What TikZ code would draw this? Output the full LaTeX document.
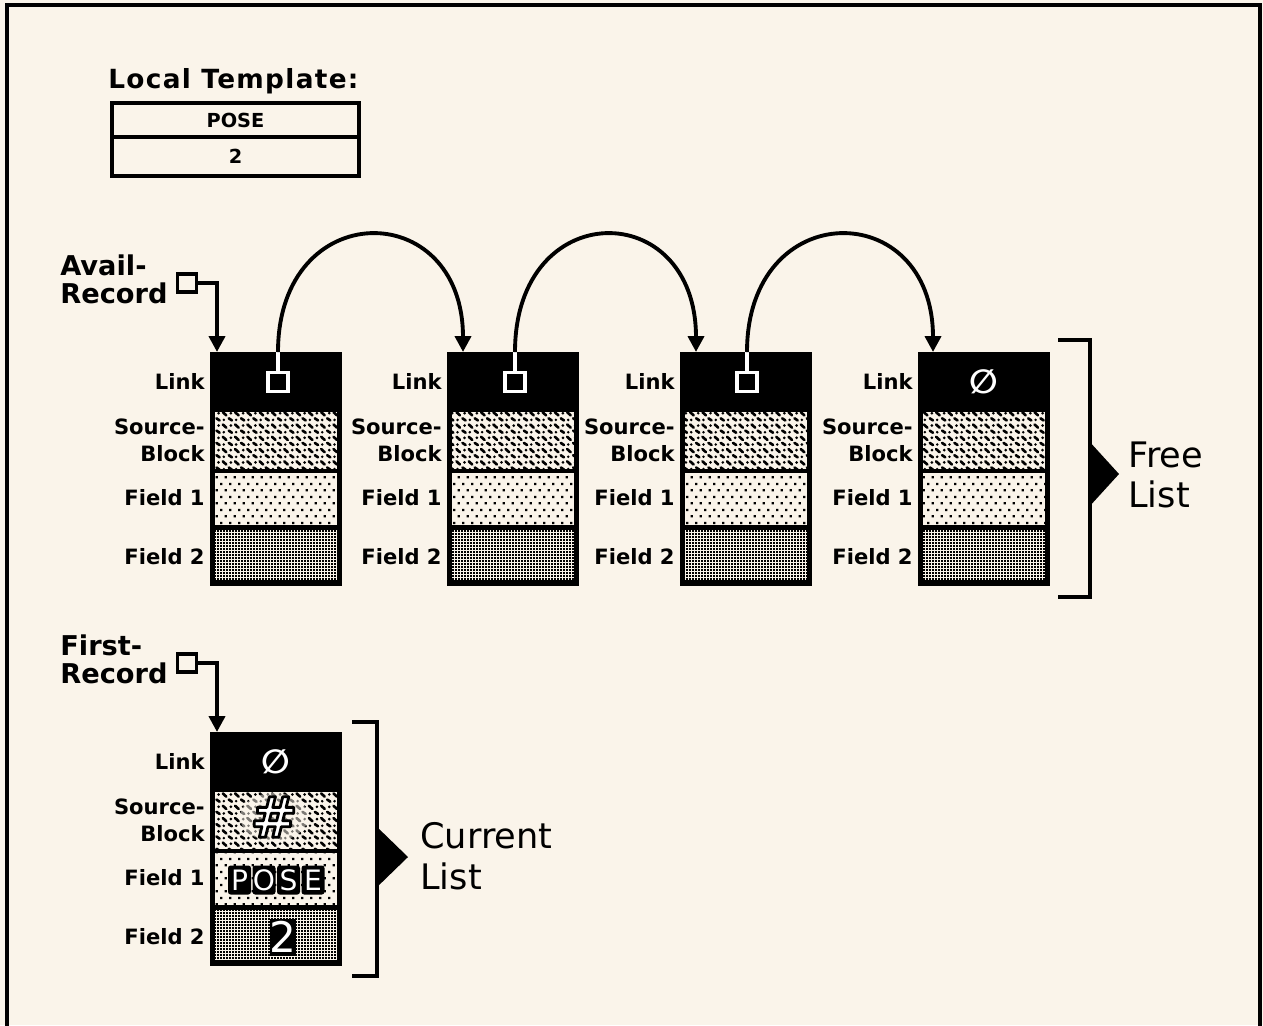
\documentclass[tikz,border=0pt]{standalone}
\usepackage{fontspec}
\setmainfont{DejaVu Sans}
\newfontfamily\spacedfont{DejaVu Sans}[LetterSpace=5]
\usetikzlibrary{arrows.meta,patterns}
\definecolor{paper}{RGB}{250,244,234}

\pgfdeclarepatternformonly{squig}{\pgfqpoint{-1pt}{-1pt}}{\pgfqpoint{8pt}{8pt}}{\pgfqpoint{7pt}{7pt}}{%
  \pgfsetlinewidth{1.5pt}\pgfsetroundcap
  \pgfpathmoveto{\pgfqpoint{0.8pt}{5.8pt}}\pgfpathlineto{\pgfqpoint{2.8pt}{4.0pt}}
  \pgfpathmoveto{\pgfqpoint{4.2pt}{2.3pt}}\pgfpathlineto{\pgfqpoint{6.0pt}{1.1pt}}
  \pgfusepath{stroke}
  \pgfpathcircle{\pgfqpoint{5.4pt}{5.2pt}}{0.85pt}
  \pgfpathcircle{\pgfqpoint{1.4pt}{1.4pt}}{0.8pt}
  \pgfusepath{fill}}
\pgfdeclarepatternformonly{sparsedots}{\pgfqpoint{0pt}{0pt}}{\pgfqpoint{5.1pt}{7.6pt}}{\pgfqpoint{5.1pt}{7.6pt}}{%
  \pgfpathrectangle{\pgfqpoint{0.3pt}{0.3pt}}{\pgfqpoint{1.4pt}{1.4pt}}
  \pgfpathrectangle{\pgfqpoint{2.85pt}{4.1pt}}{\pgfqpoint{1.4pt}{1.4pt}}
  \pgfusepath{fill}}
\pgfdeclarepatternformonly{densedots}{\pgfqpoint{0pt}{0pt}}{\pgfqpoint{1.8pt}{1.8pt}}{\pgfqpoint{1.8pt}{1.8pt}}{%
  \pgfpathrectangle{\pgfqpoint{0.1pt}{0.1pt}}{\pgfqpoint{1.3pt}{1.3pt}}
  \pgfusepath{fill}}

\tikzset{
  recbox/.style={fill=black, inner sep=0pt, outer sep=0pt, minimum width=2.64cm, minimum height=4.68cm, anchor=north west},
  cell/.style={inner sep=0pt, outer sep=0pt, minimum width=2.44cm, anchor=north west, preaction={fill=paper}},
  srcbox/.style={cell, minimum height=1.14cm, pattern=squig},
  fonebox/.style={cell, minimum height=1.04cm, pattern=sparsedots},
  ftwobox/.style={cell, minimum height=1.0cm, pattern=densedots},
  lab/.style={font=\fontsize{12}{15.3}\selectfont\bfseries, inner sep=0pt, align=right, anchor=east},
  sqr/.style={draw=white, line width=2pt, fill=black, minimum width=0.40cm, minimum height=0.38cm, inner sep=0pt},
  ptr/.style={draw=black, line width=2.2pt, fill=paper, minimum width=0.38cm, minimum height=0.36cm, inner sep=0pt},
  link/.style={line width=2.2pt, -{Triangle[length=9pt,width=9pt]}},
  bracket/.style={line width=2.2pt},
  bigtext/.style={font=\fontsize{20}{23}\selectfont, inner sep=0pt, align=left, anchor=west},
  ptrtext/.style={font=\fontsize{15.5}{16}\selectfont\bfseries, inner sep=0pt, align=left, anchor=west},
  tcell/.style={draw=black, line width=2.1pt, minimum width=4.94cm, inner sep=0pt, outer sep=0pt, font=\fontsize{11}{12}\selectfont\bfseries},
  nullsym/.style={text=white, font=\fontsize{19}{19}\selectfont\bfseries, inner sep=0pt},
  lbox/.style={fill=black, rounded corners=1.5pt, text=white, minimum width=0.46cm, minimum height=0.58cm, inner sep=0pt, font=\fontsize{16}{16}\selectfont}
}

% #1 name, #2 left x, #3 top y
\newcommand\mkrec[3]{%
  \node[recbox] (#1) at (#2,#3) {};
  \node[srcbox] (#1src) at (#2+5,#3+60) {};
  \node[fonebox] (#1fa) at (#2+5,#3+121) {};
  \node[ftwobox] (#1fb) at (#2+5,#3+178) {};
  \node[lab] (#1llink) at (#2-5,#3+29) {Link};
  \node[lab] (#1lsrc) at (#2-5,#3+88) {Source-\\Block};
  \node[lab] (#1lfa) at (#2-5,#3+146) {Field 1};
  \node[lab] (#1lfb) at (#2-5,#3+205) {Field 2};
}
% outlined (white fill, black stroke) text
\newcommand\outlinedtext[1]{\special{pdf:code q 2 Tr 0 G 1.6 w 1 j}#1\special{pdf:code Q}}

\begin{document}
\begin{tikzpicture}[x=0.02cm,y=-0.02cm]
\fill[paper] (0,0) rectangle (1263,1025);
\useasboundingbox (0,0) rectangle (1263,1025);

% frame
\draw[line width=1.8pt] (7,1040) -- (7,5) -- (1260,5) -- (1260,1040);

% local template
\node[font=\spacedfont\fontsize{15}{16}\selectfont\bfseries, inner sep=0pt, anchor=base west] (ttitle) at (108,88) {Local Template:};
\node[tcell, minimum height=0.68cm, anchor=north] (tpose) at (235.5,103) {POSE};
\node[tcell, minimum height=0.78cm, anchor=north] (ttwo) at (tpose.south) {2};

% free list records
\mkrec{ra}{210}{352}
\mkrec{rb}{447}{352}
\mkrec{rc}{680}{352}
\mkrec{rd}{918}{352}

% link squares and arcs
\node[sqr] (rasq) at (278,382) {};
\node[sqr] (rbsq) at (515,382) {};
\node[sqr] (rcsq) at (747,382) {};
\coordinate (ratop) at (278,352);
\coordinate (rbtop) at (515,352);
\coordinate (rctop) at (747,352);
\coordinate (rbin) at (463,352);
\coordinate (rcin) at (696,352);
\coordinate (rdin) at (933,352);
\draw[white, line width=2pt] (rasq.north) -- (ratop);
\draw[white, line width=2pt] (rbsq.north) -- (rbtop);
\draw[white, line width=2pt] (rcsq.north) -- (rctop);
\draw[link] (ratop) .. controls +(0,-156) and +(0,-156) .. (rbin);
\draw[link] (rbtop) .. controls +(0,-156) and +(0,-156) .. (rcin);
\draw[link] (rctop) .. controls +(0,-156) and +(0,-156) .. (rdin);
\node[nullsym] (rdnull) at (984,382) {∅};

% avail record pointer
\node[ptrtext] (availtxt) at (60,279) {Avail-\\Record};
\node[ptr] (availsq) at (187,283) {};
\coordinate (rain) at (217,352);
\draw[link] (availsq.east) -| (rain);

% free list bracket
\draw[bracket] (1058,340) -- (1090,340) -- (1090,597) -- (1058,597);
\fill (1088,440) -- (1119,474) -- (1088,508) -- cycle;
\node[bigtext] (freetxt) at (1128,475) {Free\\List};

% current list record
\mkrec{re}{210}{732}
\node[nullsym] (renull) at (276,762) {∅};
\fill[paper, opacity=0.5] (274,817) ellipse (34 and 24);
\node[font=\fontsize{32}{32}\selectfont\bfseries, text=white, inner sep=0pt] (hash) at (274,817) {\outlinedtext{\#}};
\foreach \ch [count=\i] in {P,O,S,E}
  \node[lbox] (pose\i) at (215+24.5*\i,880) {\ch};
\node[fill=black, text=white, minimum width=0.48cm, minimum height=0.74cm, inner sep=0pt, font=\fontsize{24}{24}\selectfont] (ftwoval) at (283,937) {2};

% first record pointer
\node[ptrtext] (firsttxt) at (60,659) {First-\\Record};
\node[ptr] (firstsq) at (187,663) {};
\coordinate (rein) at (217,732);
\draw[link] (firstsq.east) -| (rein);

% current list bracket
\draw[bracket] (352,722) -- (377,722) -- (377,976) -- (352,976);
\fill (375,825) -- (408,857) -- (375,889) -- cycle;
\node[bigtext] (curtxt) at (420,856) {Current\\List};
\end{tikzpicture}
\end{document}
